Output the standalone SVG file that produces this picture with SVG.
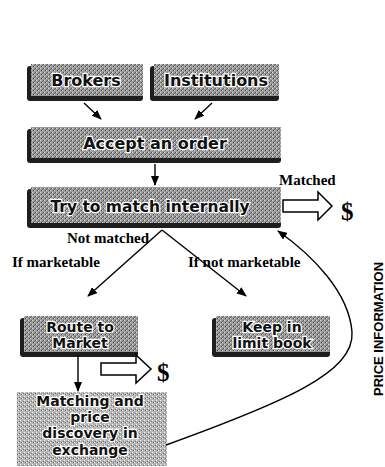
<svg xmlns="http://www.w3.org/2000/svg" width="385" height="467" viewBox="0 0 385 467">
<defs>
<pattern id="dither" width="4" height="4" patternUnits="userSpaceOnUse">
<rect width="4" height="4" fill="#9a9a9a"/>
<rect x="0" y="0" width="1" height="1" fill="#dcdcdc"/>
<rect x="2" y="2" width="1" height="1" fill="#d0d0d0"/>
<rect x="1" y="2" width="1" height="1" fill="#4a4a4a"/>
<rect x="3" y="0" width="1" height="1" fill="#555"/>
<rect x="2" y="1" width="1" height="1" fill="#666"/>
</pattern>
<pattern id="dither2" width="4" height="4" patternUnits="userSpaceOnUse">
<rect width="4" height="4" fill="#b5b5b5"/>
<rect x="0" y="0" width="1" height="1" fill="#f0f0f0"/>
<rect x="2" y="2" width="1" height="1" fill="#eeeeee"/>
<rect x="1" y="2" width="1" height="1" fill="#666"/>
<rect x="3" y="1" width="1" height="1" fill="#777"/>
</pattern>
<marker id="ah" markerWidth="10" markerHeight="8" refX="9" refY="4" orient="auto" markerUnits="userSpaceOnUse">
<path d="M0,0 L10,4 L0,8 Z" fill="#000"/>
</marker>
</defs>
<style>
.shadow{fill:#1e1e1e}
.box{fill:url(#dither)}
.box2{fill:url(#dither2)}
.bt{font-family:"DejaVu Sans","Liberation Sans",sans-serif;font-weight:bold;fill:#111;stroke:#fff;stroke-width:2.4px;paint-order:stroke;text-anchor:middle}
.lbl{font-family:"Liberation Serif","Times New Roman",serif;font-weight:bold;font-size:15px;fill:#000}
.conn{fill:none;stroke:#000;stroke-width:1.4}
.hollow{fill:#fff;stroke:#000;stroke-width:1.5}
.dollar{font-family:"Liberation Serif","Times New Roman",serif;font-weight:bold;font-size:25px;fill:#000}
.side{font-family:"Liberation Sans",Arial,sans-serif;font-weight:bold;font-size:13px;fill:#000}
</style>

<g id="brokers">
<rect class="shadow" x="27" y="66" width="116" height="35" rx="3"/>
<rect class="box" x="31" y="64" width="112" height="32"/>
<text class="bt" x="86" y="86" font-size="16">Brokers</text>
</g>
<g id="institutions">
<rect class="shadow" x="150" y="66" width="129" height="35" rx="3"/>
<rect class="box" x="154" y="64" width="125" height="32"/>
<text class="bt" x="216" y="86" font-size="16">Institutions</text>
</g>
<g id="accept">
<rect class="shadow" x="27" y="129" width="254" height="34" rx="3"/>
<rect class="box" x="31" y="127" width="250" height="31"/>
<text class="bt" x="155" y="149" font-size="16">Accept an order</text>
</g>
<g id="try">
<rect class="shadow" x="27" y="189" width="254" height="39" rx="3"/>
<rect class="box" x="31" y="187" width="250" height="36"/>
<text class="bt" x="150" y="212" font-size="15.5">Try to match internally</text>
</g>
<g id="route">
<rect class="shadow" x="20" y="318" width="118" height="39" rx="3"/>
<rect class="box" x="24" y="316" width="114" height="36"/>
<text class="bt" x="80" y="332" font-size="14">Route to</text>
<text class="bt" x="80" y="348" font-size="14">Market</text>
</g>
<g id="keep">
<rect class="shadow" x="212" y="318" width="118" height="39" rx="3"/>
<rect class="box" x="216" y="316" width="114" height="36"/>
<text class="bt" x="272" y="332" font-size="14">Keep in</text>
<text class="bt" x="272" y="348" font-size="14">limit book</text>
</g>
<g id="matching">
<rect class="box2" x="17" y="392" width="150" height="74"/>
<text class="bt" x="90" y="406" font-size="14">Matching and</text>
<text class="bt" x="90" y="422" font-size="14">price</text>
<text class="bt" x="90" y="438" font-size="14">discovery in</text>
<text class="bt" x="90" y="455" font-size="14">exchange</text>
</g>

<g id="connectors">
<line class="conn" x1="84" y1="103" x2="101" y2="119" marker-end="url(#ah)"/>
<line class="conn" x1="212" y1="103" x2="195" y2="119" marker-end="url(#ah)"/>
<line class="conn" x1="155" y1="164" x2="155" y2="185" marker-end="url(#ah)"/>
<line class="conn" x1="162" y1="230" x2="88" y2="296" marker-end="url(#ah)"/>
<line class="conn" x1="162" y1="230" x2="246" y2="296" marker-end="url(#ah)"/>
<line class="conn" x1="78" y1="355" x2="78" y2="391" marker-end="url(#ah)"/>
<path class="conn" d="M166,445 C285,402 355,372 352,332 C349,292 312,255 278,231" marker-end="url(#ah)"/>
<path class="hollow" d="M283,200 L318,200 L318,192 L332,206 L318,220 L318,212 L283,212 Z"/>
<path class="hollow" d="M101,363 L136,363 L136,355 L151,369 L136,383 L136,375 L101,375 Z"/>
</g>

<text class="lbl" x="279" y="185">Matched</text>
<text class="dollar" x="341" y="220">$</text>
<text class="dollar" x="157" y="381">$</text>
<text class="lbl" x="67" y="243">Not matched</text>
<text class="lbl" x="12" y="267">If marketable</text>
<text class="lbl" x="188" y="267">If not marketable</text>
<text class="side" transform="translate(383,396) rotate(-90)">PRICE INFORMATION</text>
</svg>
